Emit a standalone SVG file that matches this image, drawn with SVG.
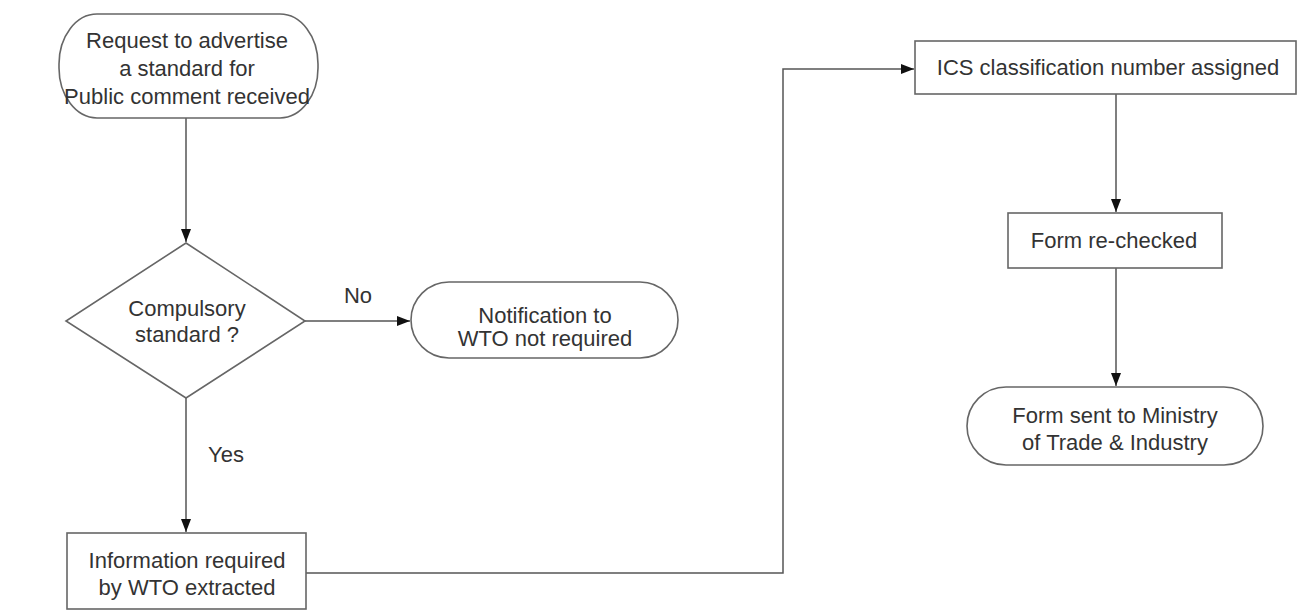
<svg xmlns="http://www.w3.org/2000/svg" width="1299" height="611" viewBox="0 0 1299 611">
<defs>
<marker id="arr" markerWidth="14" markerHeight="10" refX="13" refY="5" orient="auto" markerUnits="userSpaceOnUse">
<path d="M0,0 L13,5 L0,10 Z" fill="#111"/>
</marker>
<style>
.shape{fill:#fff;stroke:#666;stroke-width:1.6}
.conn{fill:none;stroke:#555;stroke-width:1.5}
text{font-family:"Liberation Sans",Arial,sans-serif;font-size:22px;fill:#333;text-anchor:middle}
</style>
</defs>
<rect width="1299" height="611" fill="#fff"/>
<g id="connectors">
<path class="conn" d="M186,118 L186,242" marker-end="url(#arr)"/>
<path class="conn" d="M305,321 L410,321" marker-end="url(#arr)"/>
<path class="conn" d="M186,398 L186,532" marker-end="url(#arr)"/>
<path class="conn" d="M306,573 L783,573 L783,69 L914,69" marker-end="url(#arr)"/>
<path class="conn" d="M1116,94 L1116,212" marker-end="url(#arr)"/>
<path class="conn" d="M1116,268 L1116,386" marker-end="url(#arr)"/>
<text x="358" y="303">No</text>
<text x="226" y="462">Yes</text>
</g>
<g id="n1">
<rect class="shape" x="59" y="14" width="259" height="104" rx="38" ry="50"/>
<text x="187" y="48">Request to advertise</text>
<text x="187" y="76">a standard for</text>
<text x="187" y="104">Public comment received</text>
</g>
<g id="n2">
<polygon class="shape" points="186,243 305,321 186,398 66,321"/>
<text x="187" y="316">Compulsory</text>
<text x="187" y="342">standard ?</text>
</g>
<g id="n3">
<rect class="shape" x="411" y="282" width="267" height="76" rx="38" ry="38"/>
<text x="545" y="323">Notification to</text>
<text x="545" y="346">WTO not required</text>
</g>
<g id="n4">
<rect class="shape" x="67" y="533" width="239" height="76"/>
<text x="187" y="568">Information required</text>
<text x="187" y="595">by WTO extracted</text>
</g>
<g id="n5">
<rect class="shape" x="915" y="41" width="381" height="53"/>
<text x="1108" y="75">ICS classification number assigned</text>
</g>
<g id="n6">
<rect class="shape" x="1008" y="213" width="214" height="55"/>
<text x="1114" y="248">Form re-checked</text>
</g>
<g id="n7">
<rect class="shape" x="967" y="387" width="296" height="78" rx="39" ry="39"/>
<text x="1115" y="423">Form sent to Ministry</text>
<text x="1115" y="450">of Trade &amp; Industry</text>
</g>
</svg>
